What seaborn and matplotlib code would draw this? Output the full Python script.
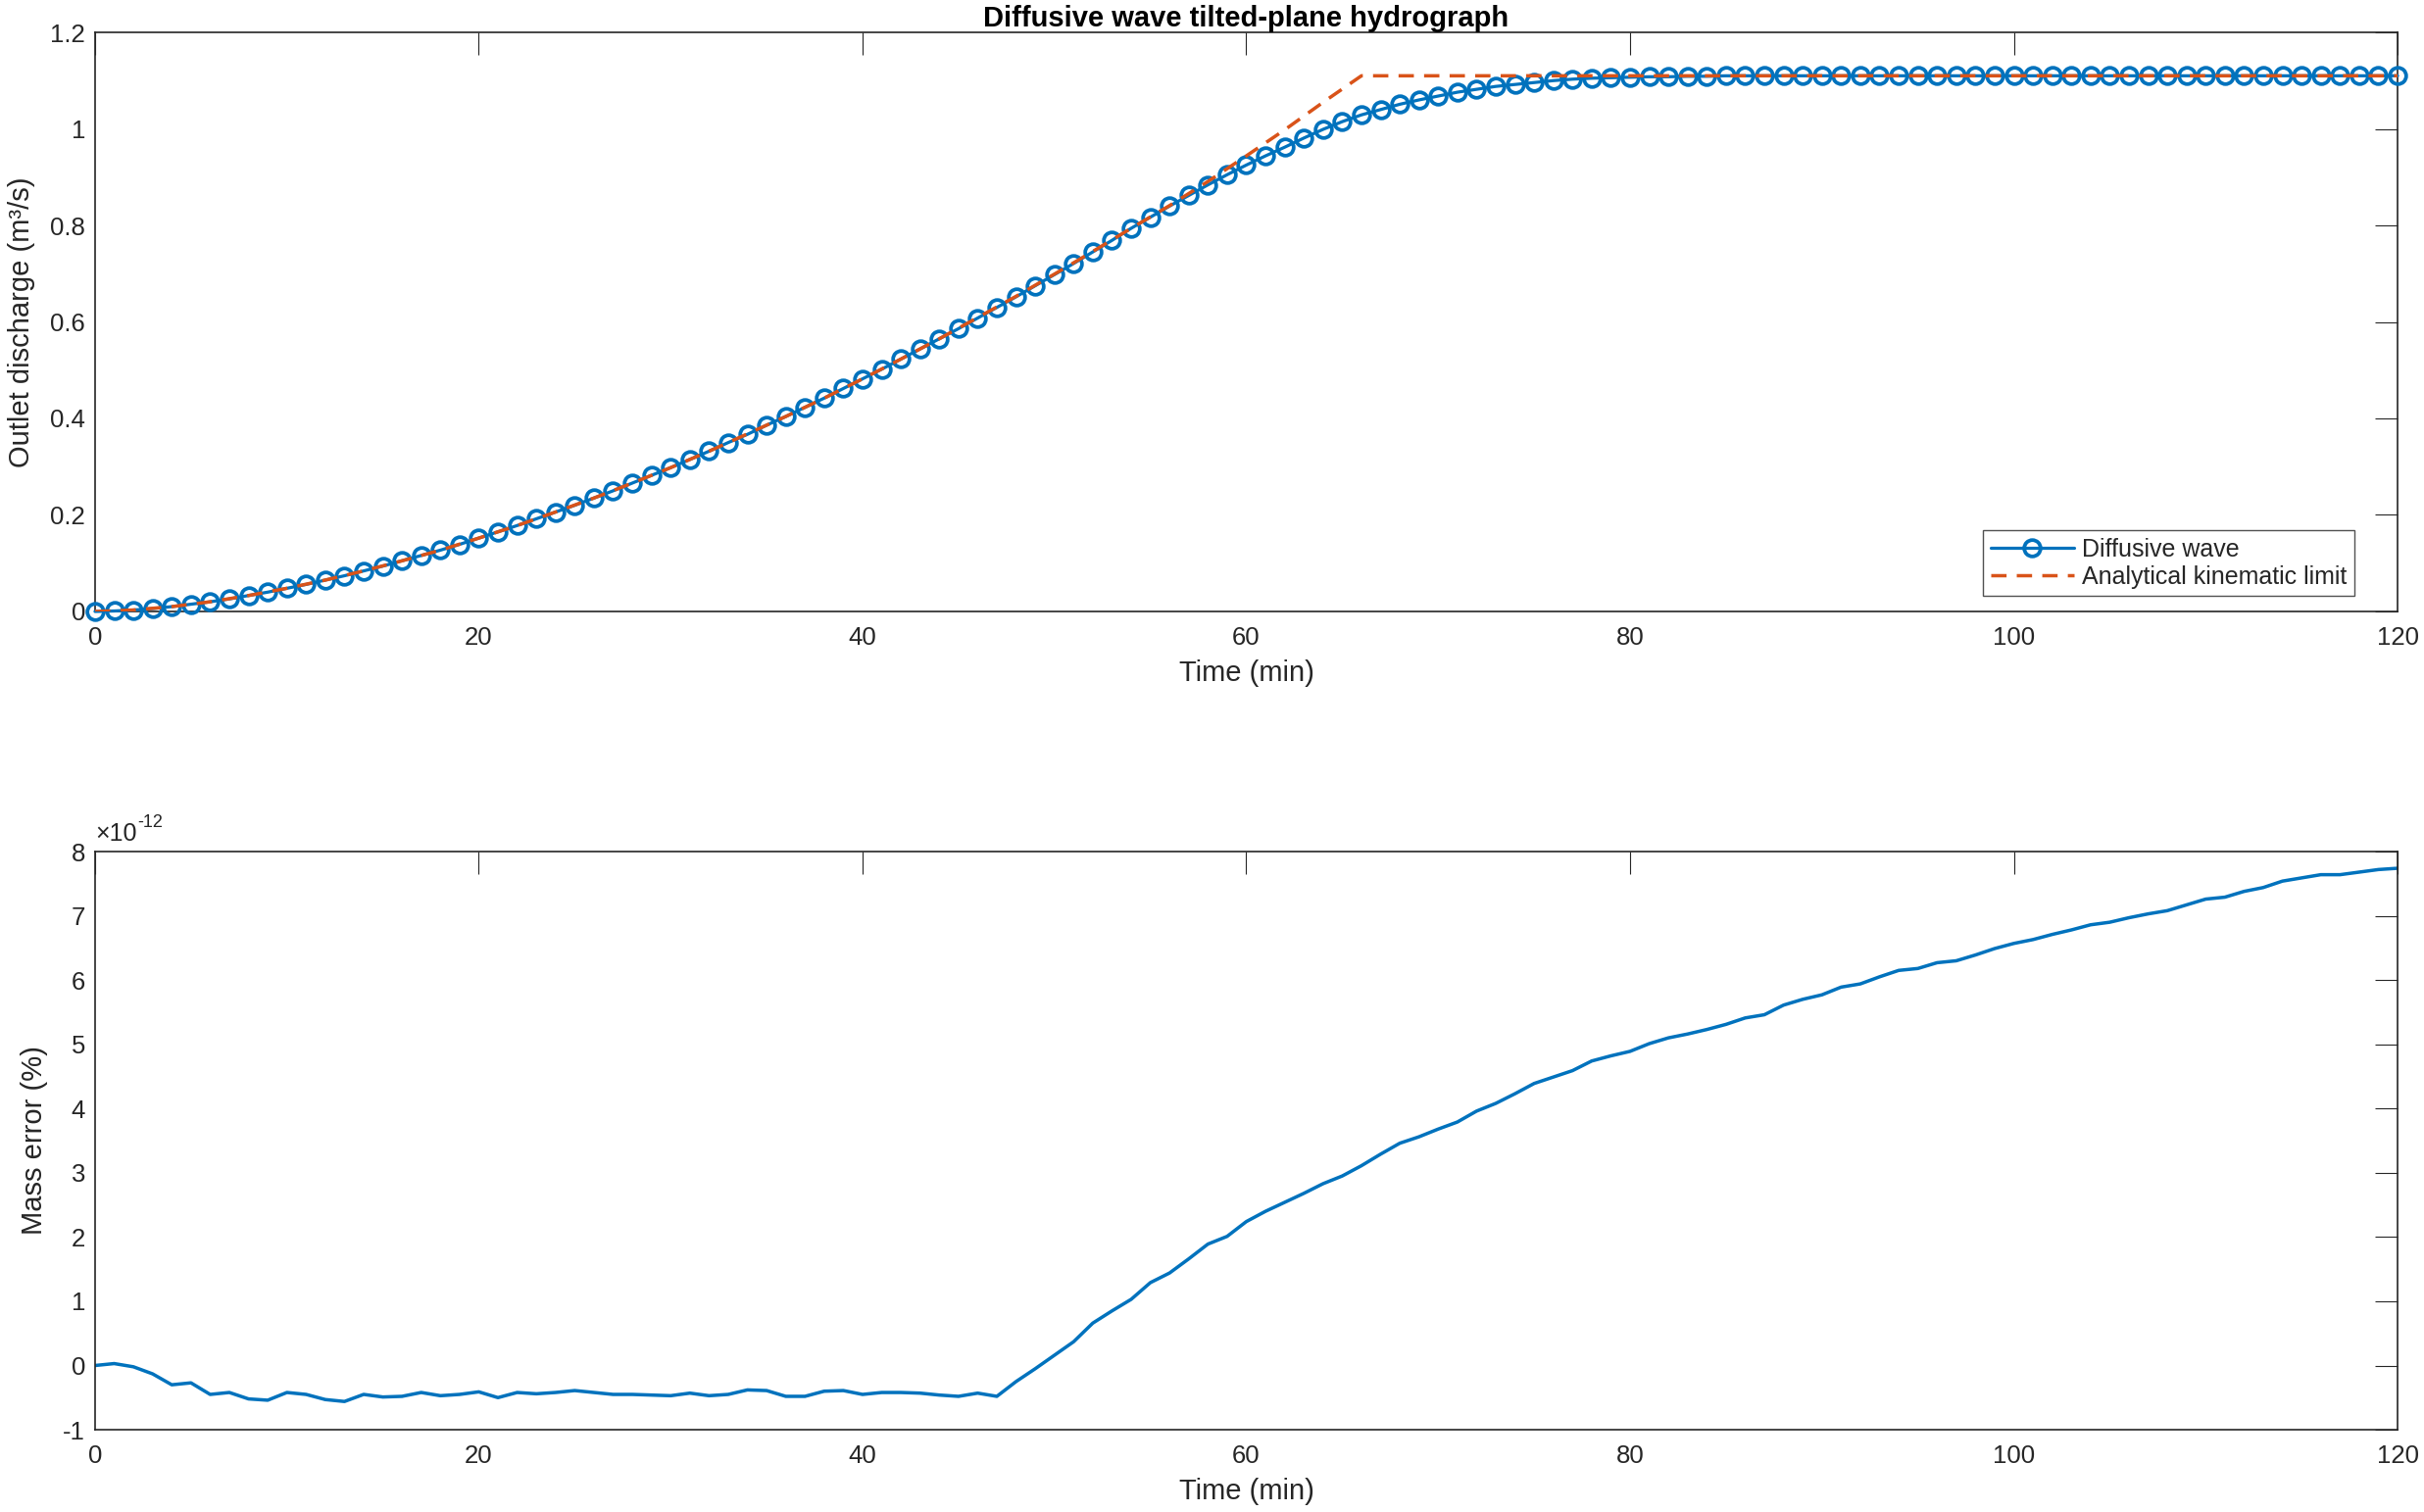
import numpy as np
import pandas as pd
import seaborn as sns
import matplotlib
matplotlib.use("Agg")
import matplotlib.pyplot as plt
from matplotlib.ticker import FuncFormatter, MultipleLocator

# time axis, 1-minute output steps
time_min = np.arange(0, 121)

# diffusive wave outlet discharge (m3/s), one value per minute
q_diffusive = [
    0.000, 0.001, 0.003, 0.006, 0.010, 0.015, 0.020, 0.026, 0.033, 0.040,
    0.048, 0.056, 0.065, 0.074, 0.084, 0.094, 0.105, 0.116, 0.127, 0.139,
    0.152, 0.165, 0.178, 0.192, 0.206, 0.220, 0.235, 0.250, 0.266, 0.282,
    0.298, 0.315, 0.332, 0.350, 0.367, 0.386, 0.404, 0.423, 0.442, 0.462,
    0.482, 0.502, 0.523, 0.544, 0.565, 0.586, 0.608, 0.630, 0.652, 0.675,
    0.698, 0.721, 0.745, 0.769, 0.794, 0.817, 0.840, 0.862, 0.884, 0.905,
    0.925, 0.944, 0.962, 0.981, 0.999, 1.015, 1.029, 1.040, 1.051, 1.060,
    1.068, 1.076, 1.082, 1.088, 1.092, 1.096, 1.100, 1.103, 1.105, 1.106,
    1.107, 1.108, 1.108, 1.109, 1.109, 1.110, 1.110, 1.110, 1.110, 1.110,
    1.110, 1.110, 1.110, 1.110, 1.110, 1.110, 1.110, 1.110, 1.110, 1.110,
    1.110, 1.110, 1.110, 1.110, 1.110, 1.110, 1.110, 1.110, 1.110, 1.110,
    1.110, 1.110, 1.110, 1.110, 1.110, 1.110, 1.110, 1.110, 1.110, 1.110,
    1.110,
]

# analytical kinematic limit
t_kinematic = [0, 2, 4, 6, 8, 10, 12, 14, 16, 18, 20, 22, 24, 26, 28, 30, 32, 34,
               36, 38, 40, 42, 44, 46, 48, 50, 52, 54, 56, 58, 60, 62, 64, 66, 120]
q_kinematic = [0.000, 0.003, 0.010, 0.020, 0.033, 0.048, 0.065, 0.084, 0.105, 0.127,
               0.152, 0.178, 0.206, 0.235, 0.266, 0.298, 0.332, 0.368, 0.404, 0.442,
               0.482, 0.523, 0.565, 0.609, 0.653, 0.699, 0.746, 0.794, 0.841, 0.891,
               0.944, 0.998, 1.055, 1.110, 1.110]

# mass error (%), in units of 1e-12
mass_error_e12 = [
    0.00, 0.03, -0.02, -0.13, -0.30, -0.27, -0.45, -0.42, -0.52, -0.54,
    -0.42, -0.45, -0.53, -0.56, -0.45, -0.49, -0.48, -0.42, -0.47, -0.45,
    -0.41, -0.50, -0.42, -0.44, -0.42, -0.39, -0.42, -0.45, -0.45, -0.46,
    -0.47, -0.43, -0.47, -0.45, -0.38, -0.39, -0.48, -0.48, -0.40, -0.39,
    -0.45, -0.42, -0.42, -0.43, -0.46, -0.48, -0.43, -0.48, -0.25, -0.05,
    0.16, 0.37, 0.66, 0.85, 1.03, 1.29, 1.44, 1.66, 1.89, 2.01,
    2.24, 2.40, 2.54, 2.68, 2.83, 2.95, 3.11, 3.29, 3.46, 3.56,
    3.68, 3.79, 3.96, 4.08, 4.23, 4.39, 4.49, 4.59, 4.74, 4.82,
    4.89, 5.01, 5.10, 5.16, 5.23, 5.31, 5.41, 5.46, 5.61, 5.70,
    5.77, 5.89, 5.94, 6.05, 6.15, 6.18, 6.27, 6.30, 6.39, 6.49,
    6.57, 6.63, 6.71, 6.78, 6.86, 6.90, 6.97, 7.03, 7.08, 7.17,
    7.26, 7.29, 7.38, 7.44, 7.54, 7.59, 7.64, 7.64, 7.68, 7.72, 7.74,
]

hydro_df = pd.DataFrame({"time": time_min, "q": q_diffusive})
kin_df = pd.DataFrame({"time": t_kinematic, "q": q_kinematic})
err_df = pd.DataFrame({"time": time_min, "err": np.array(mass_error_e12) * 1e-12})

sns.set_style("white")
plt.rcParams["font.family"] = ["Liberation Sans", "DejaVu Sans"]
plt.rcParams["axes.unicode_minus"] = False

blue = "#0072BD"
orange = "#D95319"
dark = "#262626"

fig, (ax1, ax2) = plt.subplots(2, 1, figsize=(24.73, 15.43), dpi=100)
ax1.set_position([0.0392, 0.5956, 0.9499, 0.3830])
ax2.set_position([0.0392, 0.0544, 0.9499, 0.3824])

sns.lineplot(data=hydro_df, x="time", y="q", ax=ax1, color=blue, linewidth=2.3,
             marker="o", markersize=12, markerfacecolor="none",
             markeredgecolor=blue, markeredgewidth=2.7, clip_on=False,
             label="Diffusive wave", zorder=3)
sns.lineplot(data=kin_df, x="time", y="q", ax=ax1, color=orange, linewidth=2.5,
             linestyle=(0, (4.5, 3.0)), label="Analytical kinematic limit", zorder=4)

sns.lineplot(data=err_df, x="time", y="err", ax=ax2, color=blue, linewidth=2.5)

for ax in (ax1, ax2):
    ax.set_xlim(0, 120)
    ax.xaxis.set_major_locator(MultipleLocator(20))
    ax.tick_params(direction="in", length=16.5, width=0.8, top=True, right=True,
                   labelsize=18.5, colors=dark)
    ax.tick_params(axis="x", pad=11)
    ax.tick_params(axis="y", pad=7)
    for s in ax.spines.values():
        s.set_color(dark)
        s.set_linewidth(1.2)
    ax.set_xlabel("Time (min)", fontsize=21, color=dark, labelpad=7)

ax1.set_ylim(0, 1.2)
ax1.yaxis.set_major_locator(MultipleLocator(0.2))
ax1.yaxis.set_major_formatter(FuncFormatter(lambda v, p: "%g" % round(v, 6)))
ax1.set_ylabel("Outlet discharge (m³/s)", fontsize=21, color=dark, labelpad=11)
ax1.set_title("Diffusive wave tilted-plane hydrograph", fontsize=21,
              fontweight="bold", color="black", pad=4.5)

leg = ax1.legend(loc="lower right", bbox_to_anchor=(0.9813, 0.027),
                 borderaxespad=0, fontsize=18, frameon=True, fancybox=False,
                 handlelength=3.4, numpoints=1, borderpad=0.3, labelspacing=0.15,
                 handletextpad=0.35)
leg.get_frame().set_edgecolor(dark)
leg.get_frame().set_linewidth(1.0)

ax2.set_ylim(-1e-12, 8e-12)
ax2.yaxis.set_major_locator(MultipleLocator(1e-12))
ax2.yaxis.set_major_formatter(FuncFormatter(lambda v, p: "%g" % round(v * 1e12, 6)))
ax2.set_ylabel("Mass error (%)", fontsize=21, color=dark, labelpad=11)

# exponent label above the lower axes, MATLAB style
ax2.annotate("×10", xy=(0, 1), xycoords="axes fraction", xytext=(0, 8),
             textcoords="offset points", ha="left", va="baseline",
             fontsize=18, color=dark)
ax2.annotate("-12", xy=(0, 1), xycoords="axes fraction", xytext=(31.5, 18),
             textcoords="offset points", ha="left", va="baseline",
             fontsize=13, color=dark)

fig.savefig("out.png", dpi=100, facecolor="white")
